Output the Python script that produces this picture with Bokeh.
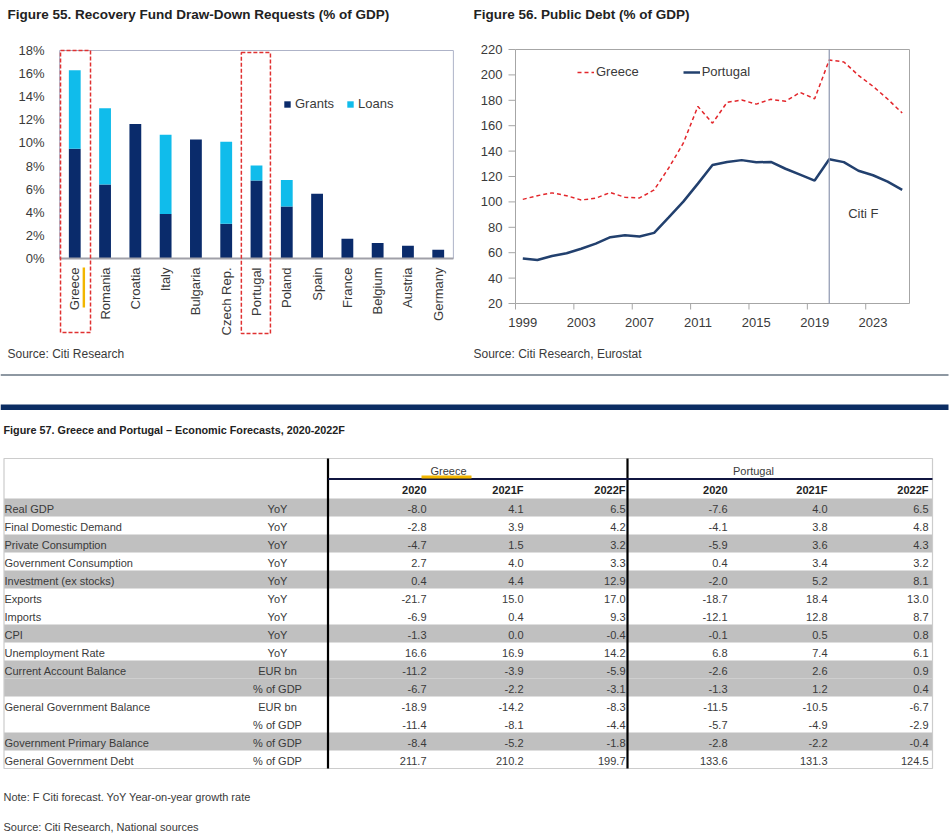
import math
from bokeh.plotting import figure
from bokeh.layouts import column, row
from bokeh.models import (FactorRange, Range1d, FixedTicker, PrintfTickFormatter,
                          Label, ColumnDataSource)
from bokeh.core.properties import value
from bokeh.embed import file_html
from bokeh.resources import INLINE

# ---------------- data ----------------
countries = ["Greece", "Romania", "Croatia", "Italy", "Bulgaria", "Czech Rep.", "Portugal",
             "Poland", "Spain", "France", "Belgium", "Austria", "Germany"]
grants = [9.5, 6.4, 11.65, 3.85, 10.3, 3.0, 6.75, 4.5, 5.6, 1.7, 1.35, 1.1, 0.75]
loans = [6.8, 6.6, 0.0, 6.85, 0.0, 7.1, 1.3, 2.3, 0.0, 0.0, 0.0, 0.0, 0.0]
pct_ticks = [0, 2, 4, 6, 8, 10, 12, 14, 16, 18]

years = list(range(1999, 2026))
greece_debt = [102.0, 104.9, 107.1, 104.9, 101.5, 102.9, 107.4, 103.6, 103.1, 109.4, 126.7,
               146.2, 175.2, 162.0, 178.4, 180.2, 177.0, 180.8, 179.2, 186.2, 181.2, 211.7,
               210.2, 199.7, 191.0, 181.0, 170.0]
portugal_debt = [55.4, 54.2, 57.4, 59.6, 63.1, 67.2, 72.2, 73.7, 72.7, 75.6, 87.8, 100.2,
                 114.4, 129.0, 131.4, 132.9, 131.2, 131.5, 126.1, 121.5, 116.8, 133.6, 131.3,
                 124.5, 121.0, 116.0, 109.5]
debt_ticks = [20, 40, 60, 80, 100, 120, 140, 160, 180, 200, 220]
year_labels = [1999, 2003, 2007, 2011, 2015, 2019, 2023]

row_labels = ["Real GDP", "Final Domestic Demand", "Private Consumption", "Government Consumption",
              "Investment (ex stocks)", "Exports", "Imports", "CPI", "Unemployment Rate",
              "Current Account Balance", "", "General Government Balance", "",
              "Government Primary Balance", "General Government Debt"]
row_units = ["YoY", "YoY", "YoY", "YoY", "YoY", "YoY", "YoY", "YoY", "YoY",
             "EUR bn", "% of GDP", "EUR bn", "% of GDP", "% of GDP", "% of GDP"]
shaded_rows = [0, 2, 4, 7, 9, 10, 13]
col_years = ["2020", "2021F", "2022F"]
greece_2020 = [-8.0, -2.8, -4.7, 2.7, 0.4, -21.7, -6.9, -1.3, 16.6, -11.2, -6.7, -18.9, -11.4, -8.4, 211.7]
greece_2021 = [4.1, 3.9, 1.5, 4.0, 4.4, 15.0, 0.4, 0.0, 16.9, -3.9, -2.2, -14.2, -8.1, -5.2, 210.2]
greece_2022 = [6.5, 4.2, 3.2, 3.3, 12.9, 17.0, 9.3, -0.4, 14.2, -5.9, -3.1, -8.3, -4.4, -1.8, 199.7]
portugal_2020 = [-7.6, -4.1, -5.9, 0.4, -2.0, -18.7, -12.1, -0.1, 6.8, -2.6, -1.3, -11.5, -5.7, -2.8, 133.6]
portugal_2021 = [4.0, 3.8, 3.6, 3.4, 5.2, 18.4, 12.8, 0.5, 7.4, 2.6, 1.2, -10.5, -4.9, -2.2, 131.3]
portugal_2022 = [6.5, 4.8, 4.3, 3.2, 8.1, 13.0, 8.7, 0.8, 6.1, 0.9, 0.4, -6.7, -2.9, -0.4, 124.5]

# ---------------- styles ----------------
FONT = "Liberation Sans"
TXT = "#3a3a3a"
NAVY = "#0A2B6B"
CYAN = "#10BCEB"
TS = "11px"  # table text size
W, H = 951, 838
ROW_TOP, ROW_BOT = 30, 340
FT, FB = 48.0, 338.0   # frame top / bottom of both charts (page px)


def clean(p):
    p.xgrid.grid_line_color = None
    p.ygrid.grid_line_color = None
    p.background_fill_color = "white"
    p.border_fill_color = "white"


# ---------------- title strip ----------------
pt = figure(width=W, height=ROW_TOP, x_range=Range1d(0, W), y_range=Range1d(ROW_TOP, 0),
            output_backend="svg", toolbar_location=None, min_border=0)
pt.axis.visible = False
clean(pt)
pt.outline_line_color = None
pt.text(x=[7, 473], y=[13.5, 13.5],
        text=["Figure 55. Recovery Fund Draw-Down Requests (% of GDP)", "Figure 56. Public Debt (% of GDP)"],
        text_font=value(FONT), text_font_style="bold", text_font_size=value("13.5px"),
        text_color="#222222", text_baseline="middle", text_align="left")

# ---------------- figure 55 ----------------
PX = 208.0 / 18.0        # pixels per percentage point (0% at y=258, 18% at y=50)
src55 = ColumnDataSource(dict(country=countries, grants=grants, loans=loans))
p55 = figure(width=470, height=ROW_BOT - ROW_TOP,
             x_range=FactorRange(factors=countries, range_padding=0.07, range_padding_units="absolute"),
             y_range=Range1d(-(FB - 258) / PX, 18 + (50 - FT) / PX),
             output_backend="svg", toolbar_location=None,
             min_border_left=57, min_border_right=15, min_border_top=int(FT - ROW_TOP),
             min_border_bottom=int(ROW_BOT - FB))
clean(p55)
p55.outline_line_color = None
p55.quad(left=[0], right=[len(countries)], bottom=[0], top=[18], fill_alpha=0,
         line_color="#AEB3C8", line_width=1)
p55.vbar_stack(["grants", "loans"], x="country", width=0.39, source=src55,
               fill_color=[NAVY, CYAN], line_color=None, legend_label=["Grants", "Loans"])
p55.segment(x0=[0], y0=[0], x1=[len(countries)], y1=[0], line_color="#A0A0A8", line_width=2)
p55.text(x=countries, y=-9 / PX, text=countries, angle=math.pi / 2,
         text_font=value(FONT), text_font_size=value("13px"), text_color=TXT,
         text_align="right", text_baseline="middle")
# dashed highlight boxes around Greece and Portugal, yellow mark under Greece
p55.quad(left=[0.03, 6.0], right=[1.02, 6.96], top=[18.0, 18 - 2 / PX],
         bottom=[-(332 - 258) / PX, -(333 - 258) / PX],
         fill_alpha=0, line_color="#E03131", line_dash="4 2", line_width=1.5)
p55.quad(left=[0.76], right=[0.84], top=[-9 / PX], bottom=[-49 / PX],
         fill_color="#F2B600", line_color=None)
p55.xaxis.visible = False
p55.yaxis.ticker = FixedTicker(ticks=pct_ticks)
p55.yaxis.formatter = PrintfTickFormatter(format="%d%%")
p55.yaxis.axis_line_color = None
p55.yaxis.major_tick_line_color = None
p55.yaxis.minor_tick_line_color = None
p55.yaxis.major_tick_out = 0
p55.yaxis.major_label_standoff = 13
p55.yaxis.major_label_text_font = FONT
p55.yaxis.major_label_text_font_size = "13px"
p55.yaxis.major_label_text_color = TXT
leg = p55.legend[0]
leg.orientation = "horizontal"
leg.location = (226, int(FB - 102 - 9))
leg.padding = 0
leg.margin = 0
leg.spacing = 12
leg.glyph_width = 8
leg.glyph_height = 8
leg.label_standoff = 4
leg.label_height = 14
leg.label_text_font = FONT
leg.label_text_font_size = "13px"
leg.label_text_color = TXT
leg.border_line_color = None
leg.background_fill_alpha = 0

# ---------------- figure 56 ----------------
PY = 254.0 / 200.0       # pixels per debt point (220 at y=49, 20 at y=303)
PXY = 394.0 / 27.0       # pixels per year (1998.5 at x=515, 2025.5 at x=909)
F56_LEFT = 470 + 36      # frame left (page px), leaves room for the "1999" label
p56 = figure(width=W - 470, height=ROW_BOT - ROW_TOP,
             x_range=Range1d(1998.5 - (515 - F56_LEFT) / PXY, 2025.5 + 1 / PXY),
             y_range=Range1d(20 - (FB - 303) / PY, 220 + (49 - FT) / PY),
             output_backend="svg", toolbar_location=None,
             min_border_left=F56_LEFT - 470, min_border_right=41, min_border_top=int(FT - ROW_TOP),
             min_border_bottom=int(ROW_BOT - FB))
clean(p56)
p56.outline_line_color = None
p56.quad(left=[1998.5], right=[2025.5], bottom=[20], top=[220], fill_alpha=0,
         line_color="#A6A6A6", line_width=1)
p56.line(years, greece_debt, line_color="#E3262B", line_dash="4 3", line_width=1.5,
         legend_label="Greece")
p56.line(years, portugal_debt, line_color="#22406E", line_width=2.5, legend_label="Portugal")
p56.segment(x0=[2020], y0=[20], x1=[2020], y1=[220], line_color="#8D97B0", line_width=1.2)
p56.add_layout(Label(x=2021.3, y=91, text="Citi F", text_font=FONT, text_font_size="13px",
                     text_color=TXT, text_baseline="middle"))
# value-axis tick marks on the left edge of the plot box
p56.segment(x0=[1998.5 - 7 / PXY] * len(debt_ticks), y0=debt_ticks,
            x1=[1998.5] * len(debt_ticks), y1=debt_ticks, line_color="#A6A6A6", line_width=1)
# category-style x axis: labels at the years, tick marks between categories
tick_x = [y - 0.5 for y in year_labels]
p56.segment(x0=tick_x, y0=[20] * len(tick_x), x1=tick_x, y1=[20 - 6 / PY] * len(tick_x),
            line_color="#A6A6A6", line_width=1)
p56.text(x=year_labels, y=20 - 19 / PY, text=[str(y) for y in year_labels],
         text_font=value(FONT), text_font_size=value("13px"), text_color=TXT,
         text_align="center", text_baseline="middle")
p56.xaxis.visible = False
p56.yaxis.ticker = FixedTicker(ticks=debt_ticks)
p56.yaxis.axis_line_color = None
p56.yaxis.major_tick_out = 0
p56.yaxis.major_tick_in = 0
p56.yaxis.major_tick_line_color = None
p56.yaxis.minor_tick_line_color = None
p56.yaxis.major_label_standoff = F56_LEFT - 502
p56.yaxis.major_label_text_font = FONT
p56.yaxis.major_label_text_font_size = "13px"
p56.yaxis.major_label_text_color = TXT
leg2 = p56.legend[0]
leg2.orientation = "horizontal"
leg2.location = (577 - F56_LEFT, int(FB - 70 - 9))
leg2.padding = 0
leg2.margin = 0
leg2.spacing = 44
leg2.glyph_width = 17
leg2.glyph_height = 10
leg2.label_standoff = 2
leg2.label_height = 14
leg2.label_text_font = FONT
leg2.label_text_font_size = "13px"
leg2.label_text_color = TXT
leg2.border_line_color = None
leg2.background_fill_alpha = 0

# ---------------- table figure ----------------
pb = figure(width=W, height=H - ROW_BOT, x_range=Range1d(0, W), y_range=Range1d(H, ROW_BOT),
            output_backend="svg", toolbar_location=None, min_border=0)
pb.axis.visible = False
clean(pb)
pb.outline_line_color = None

pb.text(x=[7, 473], y=[353, 353], text=["Source: Citi Research", "Source: Citi Research, Eurostat"],
        text_font=value(FONT), text_font_size=value("12px"), text_color=TXT,
        text_baseline="middle", text_align="left")
pb.segment(x0=[0], y0=[374.5], x1=[948], y1=[374.5], line_color="#1E3246", line_width=1.2)
pb.quad(left=[0], right=[948], top=[404], bottom=[409.5], fill_color="#0B2D63", line_color=None)
pb.text(x=[3], y=[429], text=["Figure 57. Greece and Portugal \u2013 Economic Forecasts, 2020-2022F"],
        text_font=value(FONT), text_font_style="bold", text_font_size=value("10.8px"),
        text_color="#222222", text_baseline="middle", text_align="left")

ROW0 = 498.0
RH = 18.0
tab_left, tab_right = 3.5, 932.0
tab_top, tab_bottom = 458.0, ROW0 + RH * len(row_labels)
pb.quad(left=[tab_left] * len(shaded_rows), right=[tab_right] * len(shaded_rows),
        top=[ROW0 + RH * i for i in shaded_rows], bottom=[ROW0 + RH * (i + 1) for i in shaded_rows],
        fill_color="#C0C0C0", line_color=None)
pb.quad(left=[tab_left], right=[tab_right], top=[tab_top], bottom=[tab_bottom],
        fill_alpha=0, line_color="#CCCCCC", line_width=1.2)
pb.segment(x0=[327.5, 627], y0=[tab_top, tab_top], x1=[327.5, 627], y1=[tab_bottom, tab_bottom],
           line_color="black", line_width=2.2)
pb.segment(x0=[327.5], y0=[478.5], x1=[tab_right], y1=[478.5], line_color="#101540", line_width=2.2)
pb.segment(x0=[421], y0=[476.5], x1=[471], y1=[476.5], line_color="#F2B600", line_width=3)
pb.text(x=[448, 753], y=[470, 470], text=["Greece", "Portugal"],
        text_font=value(FONT), text_font_size=value(TS), text_color=TXT,
        text_baseline="middle", text_align="center")

col_x = [426, 523, 625, 727, 827, 928]
pb.text(x=col_x, y=[489] * 6, text=col_years * 2,
        text_font=value(FONT), text_font_style="bold", text_font_size=value(TS),
        text_color="#222222", text_baseline="middle", text_align="right")

row_y = [ROW0 + RH * i + 10 for i in range(len(row_labels))]
pb.text(x=[4] * len(row_labels), y=row_y, text=row_labels,
        text_font=value(FONT), text_font_size=value(TS), text_color=TXT,
        text_baseline="middle", text_align="left")
pb.text(x=[277] * len(row_units), y=row_y, text=row_units,
        text_font=value(FONT), text_font_size=value(TS), text_color=TXT,
        text_baseline="middle", text_align="center")
series = [greece_2020, greece_2021, greece_2022, portugal_2020, portugal_2021, portugal_2022]
vx, vy, vt = [], [], []
for cx, vals in zip(col_x, series):
    for yy, v in zip(row_y, vals):
        vx.append(cx)
        vy.append(yy)
        vt.append(f"{v:.1f}")
pb.text(x=vx, y=vy, text=vt, text_font=value(FONT), text_font_size=value(TS),
        text_color=TXT, text_baseline="middle", text_align="right")

pb.text(x=[3, 3], y=[796, 826],
        text=["Note: F Citi forecast. YoY Year-on-year growth rate", "Source: Citi Research, National sources"],
        text_font=value(FONT), text_font_size=value(TS), text_color=TXT,
        text_baseline="middle", text_align="left")

layout = column(pt, row(p55, p56, spacing=0), pb, spacing=0)
open("out.html", "w").write(file_html(layout, INLINE))
